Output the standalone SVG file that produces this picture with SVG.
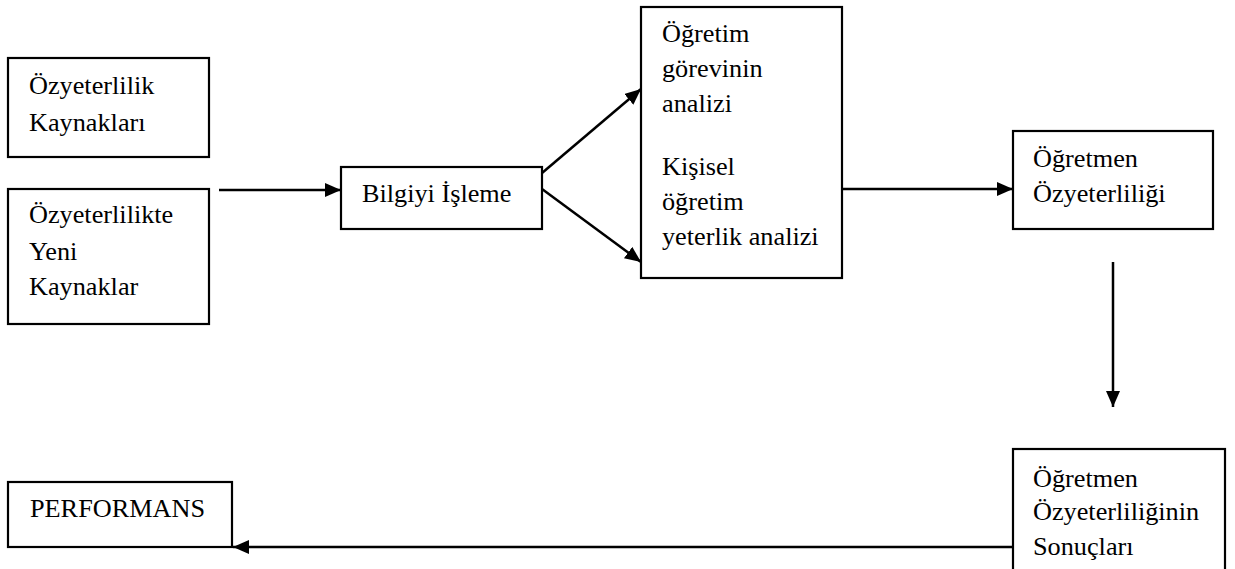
<svg xmlns="http://www.w3.org/2000/svg" width="1235" height="569" viewBox="0 0 1235 569">
<defs>
<style>
.box{fill:#fff;stroke:#000;stroke-width:2.2}
.c{stroke:#000;stroke-width:2.5;fill:none}
</style>
<marker id="ah" markerUnits="userSpaceOnUse" markerWidth="18" markerHeight="16" refX="16" refY="7" orient="auto">
<path d="M0,0 L16,7 L0,14 z" fill="#000"/>
</marker>
</defs>
<rect width="1235" height="569" fill="#fff"/>
<g font-family="'Liberation Serif', 'Times New Roman', Times, serif" font-size="25" fill="#000">
<g id="n1"><rect class="box" x="8" y="58" width="201" height="99"/>
<g transform="translate(29 0) scale(1.05 1)"><text x="0" y="94">Özyeterlilik</text><text x="0" y="131">Kaynakları</text></g></g>
<g id="n2"><rect class="box" x="8" y="189" width="201" height="135"/>
<g transform="translate(29 0) scale(1.05 1)"><text x="0" y="223">Özyeterlilikte</text><text x="0" y="260">Yeni</text><text x="0" y="295">Kaynaklar</text></g></g>
<g id="n3"><rect class="box" x="341" y="167" width="201" height="62"/>
<g transform="translate(362 0) scale(1.05 1)"><text x="0" y="202">Bilgiyi İşleme</text></g></g>
<g id="n4"><rect class="box" x="641" y="7" width="201" height="271"/>
<g transform="translate(662 0) scale(1.05 1)"><text x="0" y="42">Öğretim</text><text x="0" y="77">görevinin</text><text x="0" y="112">analizi</text>
<text x="0" y="175">Kişisel</text><text x="0" y="210">öğretim</text><text x="0" y="245">yeterlik analizi</text></g></g>
<g id="n5"><rect class="box" x="1013" y="131" width="200" height="98"/>
<g transform="translate(1033 0) scale(1.05 1)"><text x="0" y="167">Öğretmen</text><text x="0" y="202">Özyeterliliği</text></g></g>
<g id="n6"><rect class="box" x="1013" y="449" width="212" height="140"/>
<g transform="translate(1033 0) scale(1.05 1)"><text x="0" y="487">Öğretmen</text><text x="0" y="520">Özyeterliliğinin</text><text x="0" y="555">Sonuçları</text></g></g>
<g id="n7"><rect class="box" x="8" y="482" width="224" height="65"/>
<g transform="translate(30 0) scale(1.05 1)"><text x="0" y="517">PERFORMANS</text></g></g>
</g>
<g id="connectors">
<line class="c" x1="219" y1="190" x2="341" y2="190" marker-end="url(#ah)"/>
<line class="c" x1="542" y1="173" x2="641" y2="89" marker-end="url(#ah)"/>
<line class="c" x1="542" y1="189" x2="641" y2="262" marker-end="url(#ah)"/>
<line class="c" x1="842" y1="189" x2="1013" y2="189" marker-end="url(#ah)"/>
<line class="c" x1="1113" y1="262" x2="1113" y2="407" marker-end="url(#ah)"/>
<line class="c" x1="1013" y1="547" x2="233" y2="547" marker-end="url(#ah)"/>
</g>
</svg>
